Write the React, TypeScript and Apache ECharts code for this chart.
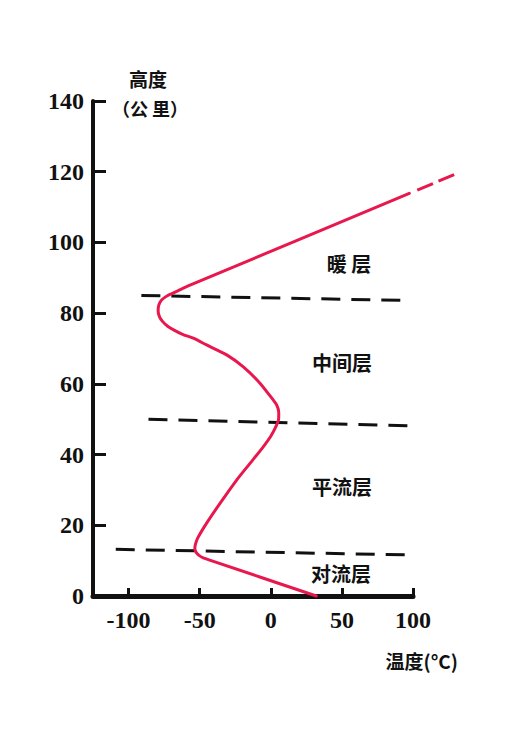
import React, { useEffect, useRef } from 'react';
import * as echarts from 'echarts';

// temperature (°C) vs altitude (km)
const profile: [number, number][] = [
  [32, 0], [-44, 10.3],
  [-47.5, 10.8], [-50.5, 11.5], [-52.6, 12.4], [-53.4, 13.4], [-53, 14.6], [-51.5, 16.3],
  [-45.1, 20.6], [-35.7, 26.2], [-24, 32.8], [-14, 37.8], [-5.3, 42.2],
  [0, 45.2], [3.5, 47.8], [5.5, 50], [5.6, 52], [4.2, 54], [1.8, 55.4],
  [-7.6, 60.2], [-19.3, 64.8], [-31, 68.2], [-45.1, 71.0], [-54.5, 72.9], [-62, 74], [-68, 75.2],
  [-72.5, 76.3], [-76, 77.6], [-78.3, 79], [-79.2, 80.6], [-78.8, 82.2], [-77, 83.6],
  [-74, 84.6], [-70.9, 85.3], [-65, 86.4],
  [-56.8, 87.9], [97.4, 113.9]
];
// dashed continuation beyond the axis end
const profileExtension: [number, number][] = [[103, 114.8], [131.4, 119.6]];

// layer boundaries (slightly tilted in the print)
const boundaries: [number, number][][] = [
  [[-91, 85.0], [95, 83.6]],
  [[-86, 50.0], [99.5, 48.1]],
  [[-109, 13.2], [98.6, 11.6]]
];

const xTicks = [-100, -50, 0, 50, 100];
const layerNames = ['暖 层', '中间层', '平流层', '对流层'];

const cjk = '"Noto Sans CJK SC", sans-serif';
const serif = '"Liberation Serif", "Times New Roman", serif';

export default function App() {
  const ref = useRef<HTMLDivElement>(null);

  useEffect(() => {
    if (!ref.current) return;
    const chart = echarts.init(ref.current, null, { renderer: 'svg' });

    const layerPos = [[349, 263], [342, 362], [342, 486], [341, 573]];
    const pxPerDeg = 320 / 225;

    chart.setOption({
      animation: false,
      backgroundColor: '#ffffff',
      grid: [
        { left: 93, width: 320, top: 101, bottom: 154 },
        // same scale, wider range, for the dashed continuation
        { left: 93, width: 260 * pxPerDeg, top: 101, bottom: 154 }
      ],
      xAxis: [
        {
          type: 'value',
          gridIndex: 0,
          min: -125,
          max: 100,
          splitLine: { show: false },
          axisLine: { show: true, onZero: false, lineStyle: { color: '#111', width: 5 } },
          axisTick: { inside: true, length: 8, customValues: xTicks, lineStyle: { color: '#111', width: 3 } },
          axisLabel: {
            customValues: xTicks,
            margin: 12,
            color: '#111',
            fontFamily: serif,
            fontWeight: 'bold',
            fontSize: 24,
            formatter: (v: number) => (v < 0 ? '-' + Math.abs(v) : String(v))
          }
        },
        { type: 'value', gridIndex: 1, min: -125, max: 135, show: false }
      ],
      yAxis: [
        {
          type: 'value',
          gridIndex: 0,
          min: 0,
          max: 140,
          interval: 20,
          splitLine: { show: false },
          axisLine: { show: true, onZero: false, lineStyle: { color: '#111', width: 4 } },
          axisTick: { inside: true, length: 13, lineStyle: { color: '#111', width: 3 } },
          axisLabel: { margin: 9, color: '#111', fontFamily: serif, fontWeight: 'bold', fontSize: 24 }
        },
        { type: 'value', gridIndex: 1, min: 0, max: 140, show: false }
      ],
      series: [
        {
          type: 'line',
          data: profile,
          smooth: 0.2,
          symbol: 'none',
          clip: false,
          z: 3,
          lineStyle: { color: '#e8174d', width: 3, join: 'round', cap: 'round' }
        },
        {
          type: 'line',
          xAxisIndex: 1,
          yAxisIndex: 1,
          data: profileExtension,
          symbol: 'none',
          clip: false,
          z: 3,
          lineStyle: { color: '#e8174d', width: 3, type: [17, 6] }
        },
        ...boundaries.map((b) => ({
          type: 'line',
          data: b,
          symbol: 'none',
          clip: false,
          z: 1,
          lineStyle: { color: '#111', width: 3, type: [19, 11] }
        }))
      ],
      graphic: [
        {
          type: 'text', x: 148, y: 78,
          style: { text: '高度', font: `bold 19px ${cjk}`, fill: '#111', align: 'center', verticalAlign: 'middle' }
        },
        {
          type: 'text', x: 150, y: 108,
          style: { text: '（公 里）', font: `bold 18px ${cjk}`, fill: '#111', align: 'center', verticalAlign: 'middle' }
        },
        {
          type: 'text', x: 458, y: 660,
          style: { text: '温度(°C)', font: `bold 19px ${cjk}`, fill: '#111', align: 'right', verticalAlign: 'middle' }
        },
        ...layerNames.map((name, i) => ({
          type: 'text',
          x: layerPos[i][0],
          y: layerPos[i][1],
          style: { text: name, font: `bold 20px ${cjk}`, fill: '#111', align: 'center', verticalAlign: 'middle' }
        }))
      ]
    });

    return () => chart.dispose();
  }, []);

  return (
    <div
      ref={ref}
      style={{ position: 'absolute', left: 0, top: 0, width: 512, height: 750 }}
    />
  );
}
